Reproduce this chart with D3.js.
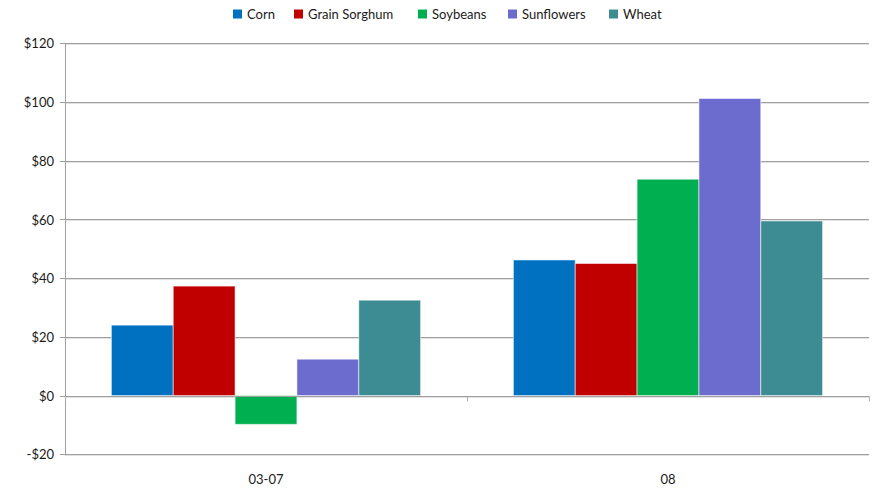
<!DOCTYPE html>
<html><head><meta charset="utf-8">
<script src="https://cdn.jsdelivr.net/npm/d3@7"></script>
<style>body{margin:0;background:#fff}svg{display:block;font-family:Lato,"Open Sans",sans-serif}</style>
</head><body><svg id="c" width="880" height="492"></svg>
<script>
const categories = ["03-07", "08"];
const seriesNames = ["Corn", "Grain Sorghum", "Soybeans", "Sunflowers", "Wheat"];
const seriesColors = ["#0070C0", "#C00000", "#00B050", "#6C6CCE", "#3E8C93"];
const corn = [24, 46.2];
const grainSorghum = [37.3, 45];
const soybeans = [-9.8, 73.7];
const sunflowers = [12.4, 101.2];
const wheat = [32.5, 59.5];
const yTicks = [-20, 0, 20, 40, 60, 80, 100, 120];
const seriesValues = [corn, grainSorghum, soybeans, sunflowers, wheat];

const svg = d3.select("#c");
const L = 65, R = 869, T = 43.3, B = 454.3;
const y = d3.scaleLinear().domain([-20, 120]).range([B, T]);
const x0 = d3.scaleBand().domain(categories).range([L, R]).paddingInner(0).paddingOuter(0);
const x1 = d3.scaleBand().domain(seriesNames).range([0, x0.bandwidth()]).paddingInner(0).paddingOuter(0.75);

// gridlines
const g = svg.append("g");
yTicks.forEach(t => {
  const yy = Math.round(y(t));
  g.append("line").attr("x1", L - 5).attr("x2", R).attr("y1", yy + 0.5).attr("y2", yy + 0.5).attr("stroke", "#a0a0a0").attr("stroke-width", 1);
  g.append("line").attr("x1", L).attr("x2", R).attr("y1", yy + 1.5).attr("y2", yy + 1.5).attr("stroke", "#e2e2e2").attr("stroke-width", 1);
});
// y axis line
g.append("line").attr("x1", L + 0.5).attr("x2", L + 0.5).attr("y1", T).attr("y2", B + 1).attr("stroke", "#a0a0a0");

// y labels
const yAxis = d3.axisLeft(y).tickValues(yTicks).tickSize(0).tickPadding(0)
  .tickFormat(d => (d < 0 ? "-$" : "$") + Math.abs(d));
const ya = svg.append("g").attr("transform", `translate(${L - 11},0)`).call(yAxis);
ya.select(".domain").remove();
ya.selectAll("text").attr("font-size", 13).attr("fill", "#1a1a1a").attr("font-family", "Lato,sans-serif").attr("dy", "0.35em");

// bars
seriesNames.forEach((s, i) => {
  svg.append("g").selectAll("rect").data(seriesValues[i]).join("rect")
    .attr("x", (d, j) => x0(categories[j]) + x1(s))
    .attr("width", x1.bandwidth())
    .attr("y", d => y(Math.max(0, d)))
    .attr("height", d => Math.abs(y(d) - y(0)))
    .attr("fill", seriesColors[i])
    .attr("stroke", "rgba(255,255,255,0.55)").attr("stroke-width", 1);
});

// zero line on top
const zy = Math.round(y(0)) + 0.5;
svg.append("line").attr("x1", L).attr("x2", R).attr("y1", zy).attr("y2", zy).attr("stroke", "#a0a0a0");
// category ticks
[L, x0("08"), R].forEach(xx => {
  svg.append("line").attr("x1", Math.round(xx) + 0.5).attr("x2", Math.round(xx) + 0.5).attr("y1", zy).attr("y2", zy + 5).attr("stroke", "#b0b0b0");
});

// x labels
const xAxis = d3.axisBottom(x0).tickSize(0).tickPadding(0);
const xa = svg.append("g").attr("transform", `translate(0,${B + 25})`).call(xAxis);
xa.select(".domain").remove();
xa.selectAll("text").attr("font-size", 13).attr("fill", "#1a1a1a").attr("font-family", "Lato,sans-serif").attr("dy", "0.35em");

// legend
const lg = svg.append("g");
const legendStarts = [233, 294, 418, 508, 609];
seriesNames.forEach((s, i) => {
  const lx = legendStarts[i];
  lg.append("rect").attr("x", lx).attr("y", 9.5).attr("width", 9).attr("height", 9).attr("fill", seriesColors[i]);
  lg.append("text").attr("x", lx + 14).attr("y", 14).attr("dy", "0.35em").attr("font-size", 13).attr("fill", "#1a1a1a").text(s);
});
</script></body></html>
